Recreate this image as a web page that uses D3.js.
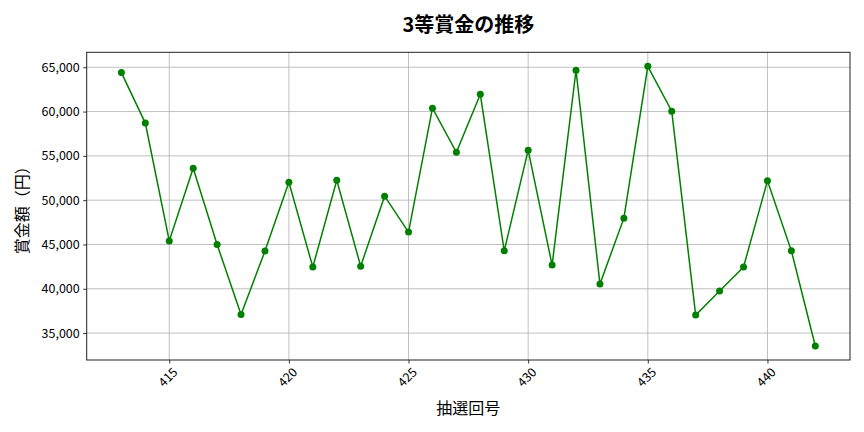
<!DOCTYPE html>
<html><head><meta charset="utf-8">
<script src="https://cdn.jsdelivr.net/npm/d3@7"></script>
<style>body{margin:0;background:#fff}svg{display:block}text{font-family:"Noto Sans CJK JP","Noto Sans",sans-serif}</style>
</head><body>
<svg id="c" width="864" height="432"></svg>
<script>
const draws = [413,414,415,416,417,418,419,420,421,422,423,424,425,426,427,428,429,430,431,432,433,434,435,436,437,438,439,440,441,442];
const prizes = [64400,58700,45400,53600,45000,37100,44250,52030,42450,52250,42550,50450,46400,60380,55400,61950,44280,55640,42670,64660,40530,47970,65110,60040,37030,39740,42450,52180,44280,33540];
const xTicks = [415,420,425,430,435,440];
const yTicks = [35000,40000,45000,50000,55000,60000,65000];
const title = "3等賞金の推移", xLabel = "抽選回号", yLabel = "賞金額（円）";

const svg = d3.select("#c");
const L=86.7, R=850, T=52.3, B=360;
const xMin=d3.min(draws), xMax=d3.max(draws), xm=(xMax-xMin)*0.05;
const yMin=d3.min(prizes), yMax=d3.max(prizes), ym=(yMax-yMin)*0.05;
const x=d3.scaleLinear().domain([xMin-xm,xMax+xm]).range([L,R]);
const y=d3.scaleLinear().domain([yMin-ym,yMax+ym]).range([B,T]);

// grid
const g=svg.append("g");
g.selectAll(".gx").data(xTicks).join("line").attr("x1",d=>x(d)).attr("x2",d=>x(d)).attr("y1",T).attr("y2",B).attr("stroke","#b0b0b0").attr("stroke-width",0.8);
g.selectAll(".gy").data(yTicks).join("line").attr("y1",d=>y(d)).attr("y2",d=>y(d)).attr("x1",L).attr("x2",R).attr("stroke","#b0b0b0").attr("stroke-width",0.8);

// axes
const xa=svg.append("g").attr("transform",`translate(0,${B})`).call(d3.axisBottom(x).tickValues(xTicks).tickSize(3.5).tickPadding(3).tickFormat(d3.format("d")));
xa.select(".domain").remove();
xa.selectAll("text").attr("font-size",12.5).attr("fill","#000").attr("text-anchor","middle").attr("dy",null).attr("y",0)
  .attr("transform","translate(-1,18) rotate(-45)").attr("dominant-baseline","middle");
const ya=svg.append("g").attr("transform",`translate(${L},0)`).call(d3.axisLeft(y).tickValues(yTicks).tickSize(3.5).tickPadding(3.5).tickFormat(d3.format(",")));
ya.select(".domain").remove();
ya.selectAll("text").attr("font-size",12.5).attr("fill","#000");
svg.selectAll(".tick line").attr("stroke","#000").attr("stroke-width",0.8);

svg.append("rect").attr("x",L).attr("y",T).attr("width",R-L).attr("height",B-T).attr("fill","none").attr("stroke","#222").attr("stroke-width",1);

// line
const line=d3.line().x((d,i)=>x(draws[i])).y(d=>y(d));
svg.append("path").datum(prizes).attr("d",line).attr("fill","none").attr("stroke","green").attr("stroke-width",1.5);
svg.selectAll(".pt").data(prizes).join("circle").attr("cx",(d,i)=>x(draws[i])).attr("cy",d=>y(d)).attr("r",3.5).attr("fill","green");

// labels
svg.append("text").attr("x",(L+R)/2).attr("y",32).attr("text-anchor","middle").attr("font-size",20).attr("font-weight","bold").text(title);
svg.append("text").attr("x",(L+R)/2).attr("y",414).attr("text-anchor","middle").attr("font-size",16).text(xLabel);
svg.append("text").attr("transform",`translate(28,${(T+B)/2}) rotate(-90)`).attr("text-anchor","middle").attr("font-size",16).text(yLabel);
</script>
</body></html>
